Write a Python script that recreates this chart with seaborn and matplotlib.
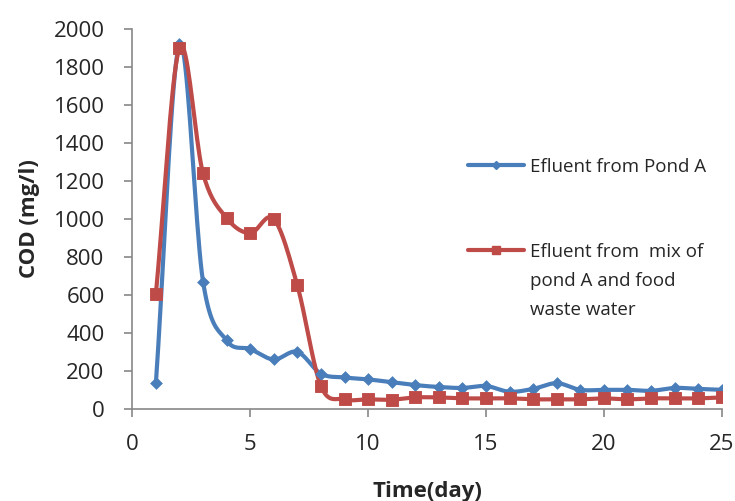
import numpy as np
import pandas as pd
import seaborn as sns
import matplotlib.pyplot as plt
from matplotlib.lines import Line2D

# Datos
days = list(range(1, 26))
pond_a = [135, 1920, 670, 360, 315, 260, 300, 185, 165, 155, 140, 125, 115,
          110, 120, 90, 105, 135, 100, 100, 100, 95, 110, 105, 100]
mix = [605, 1900, 1240, 1005, 925, 1000, 650, 120, 50, 50, 48, 60, 60,
       55, 55, 55, 50, 50, 50, 55, 50, 55, 55, 55, 60]

label_a = "Efluent from Pond A"
label_b = ["Efluent from  mix of", "pond A and food", "waste water"]

df = pd.DataFrame({"day": days, "pond_a": pond_a, "mix": mix})


def smooth(x, y, n=20):
    # curva tipo Excel (Catmull-Rom) entre los puntos
    x = np.asarray(x, float)
    y = np.asarray(y, float)
    px = np.concatenate([[2 * x[0] - x[1]], x, [2 * x[-1] - x[-2]]])
    py = np.concatenate([[2 * y[0] - y[1]], y, [2 * y[-1] - y[-2]]])
    xs, ys = [], []
    t = np.linspace(0, 1, n, endpoint=False)
    for i in range(1, len(px) - 2):
        p0, p1, p2, p3 = py[i - 1], py[i], py[i + 1], py[i + 2]
        q0, q1, q2, q3 = px[i - 1], px[i], px[i + 1], px[i + 2]
        ys.append(0.5 * (2 * p1 + (-p0 + p2) * t + (2 * p0 - 5 * p1 + 4 * p2 - p3) * t ** 2
                         + (-p0 + 3 * p1 - 3 * p2 + p3) * t ** 3))
        xs.append(0.5 * (2 * q1 + (-q0 + q2) * t + (2 * q0 - 5 * q1 + 4 * q2 - q3) * t ** 2
                         + (-q0 + 3 * q1 - 3 * q2 + q3) * t ** 3))
    xs.append([x[-1]])
    ys.append([y[-1]])
    return np.concatenate(xs), np.concatenate(ys)


sns.set_style("white")
plt.rcParams['font.family'] = ['Open Sans', 'DejaVu Sans']

fig = plt.figure(figsize=(7.35, 5.01), dpi=100)
ax = fig.add_axes([0.18, 0.184, 0.802, 0.758])

blue = "#4A7EBB"
red = "#BE4B48"

styles = {"pond_a": (blue, "D", 6), "mix": (red, "s", 8)}
for col, (color, marker, ms) in styles.items():
    sx, sy = smooth(df["day"], df[col])
    sns.lineplot(x=sx, y=sy, ax=ax, color=color, linewidth=3, sort=False)
    sns.scatterplot(data=df, x="day", y=col, ax=ax, color=color, marker=marker,
                    s=ms ** 2, edgecolor=color, zorder=3)

ax.set_xlim(0, 25)
ax.set_ylim(0, 2000)
ax.set_xticks(range(0, 26, 5))
ax.set_yticks(range(0, 2001, 200))
ax.tick_params(axis='both', labelsize=16, direction='out', length=6, color="#888888",
               width=1.2, bottom=True, left=True)
ax.tick_params(axis='y', pad=14)
ax.tick_params(axis='x', pad=12)
for s in ["top", "right"]:
    ax.spines[s].set_visible(False)
for s in ["left", "bottom"]:
    ax.spines[s].set_color("#888888")
    ax.spines[s].set_linewidth(1.2)

ax.set_xlabel("Time(day)", fontsize=16, fontweight="bold", labelpad=19)
ax.set_ylabel("COD (mg/l)", fontsize=16, fontweight="bold", labelpad=10)

# leyendas
h_a = Line2D([], [], color=blue, linewidth=3, marker="D", markersize=4)
h_b = Line2D([], [], color=red, linewidth=3, marker="s", markersize=6)
blank = Line2D([], [], color="none")
leg_kw = dict(frameon=False, fontsize=13.5, handlelength=3.0, handletextpad=0.3,
              borderpad=0, borderaxespad=0, loc="center left")
leg1 = ax.legend([h_a], [label_a], bbox_to_anchor=(0.569, 0.637), **leg_kw)
ax.add_artist(leg1)
ax.legend([h_b, blank, blank], label_b, bbox_to_anchor=(0.569, 0.337),
          labelspacing=0.58, **leg_kw)

plt.savefig("out.png", dpi=100)
plt.close()
